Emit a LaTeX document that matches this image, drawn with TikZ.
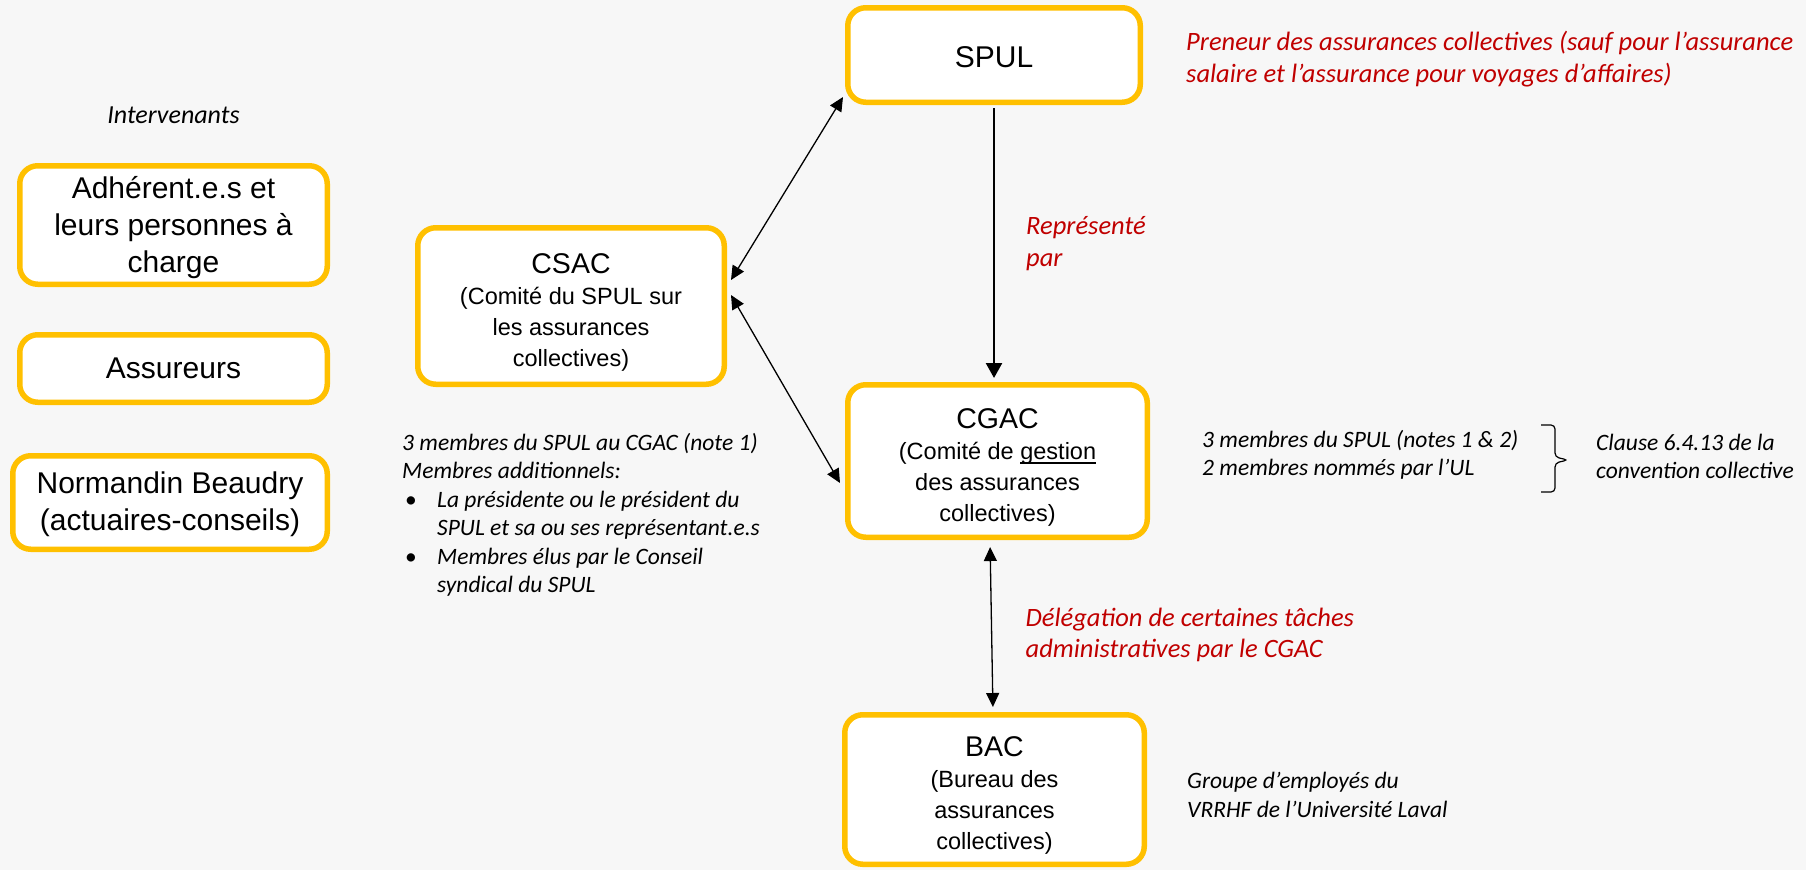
\documentclass[tikz,border=0pt]{standalone}
\usepackage{fontspec}
\setmainfont{Liberation Sans}
\newfontfamily\notefont{Carlito}
\usepackage{tikz}
\usetikzlibrary{positioning,arrows.meta}

\definecolor{boxorange}{HTML}{FFC000}
\definecolor{notered}{HTML}{C00000}
\definecolor{pagegray}{HTML}{F7F7F7}

\newcommand{\titlesize}{\fontsize{28.5}{31}\selectfont\rule{0pt}{32pt}}
\newcommand{\lowline}[1]{\setbox0\hbox{#1}\rlap{\rule[-4.5pt]{\wd0}{1.2pt}}#1}

\begin{document}
\begin{tikzpicture}[%
    x=1pt,
    y=-1pt,
    >={Triangle[length=14pt,width=13pt]},
    actor/.style={%
      rectangle,
      rounded corners=18pt,
      draw=boxorange,
      line width=5.5pt,
      fill=white,
      align=center,
      inner sep=2pt,
      font=\fontsize{30}{37}\selectfont
    },
    committee/.style={%
      actor,
      font=\fontsize{23.5}{31}\selectfont
    },
    note/.style={%
      align=left,
      inner sep=0pt,
      font=\notefont\itshape\fontsize{23.5}{28.5}\selectfont
    },
    rednote/.style={%
      note,
      text=notered,
      font=\notefont\itshape\fontsize{26.5}{31.5}\selectfont
    },
    link/.style={%
      <->,
      line width=1.3pt
    }
  ]
    \fill[pagegray] (0,0) rectangle (1806,870);
    \useasboundingbox (0,0) rectangle (1806,870);

    % centre column
    \node[actor, minimum width=292.5pt, minimum height=94.5pt] (spul) at (994,55) {\rule{0pt}{25pt}SPUL};
    \node[committee, minimum width=299.5pt, minimum height=152.5pt] (cgac) [below=277pt of spul, xshift=3.5pt]
      {{\titlesize CGAC}\\(Comité de \lowline{gestion}\\des assurances\\collectives)};
    \node[committee, minimum width=299.5pt, minimum height=149.5pt] (bac) [below=172pt of cgac, xshift=-3pt]
      {{\titlesize BAC}\\(Bureau des\\assurances\\collectives)};
    \node[committee, minimum width=306.5pt, minimum height=156.5pt] (csac) [below left=120pt and 118pt of spul]
      {{\titlesize CSAC}\\(Comité du SPUL sur\\les assurances\\collectives)};

    % left column
    \node[note, font=\notefont\itshape\fontsize{26}{30}\selectfont] (inter) at (173.5,115) {Intervenants};
    \node[actor, minimum width=307.5pt, minimum height=118.5pt] (adh) at (173.5,225)
      {\rule{0pt}{28pt}Adhérent.e.s et\\leurs personnes à\\charge};
    \node[actor, minimum width=307.5pt, minimum height=67.5pt] (assur) [below=45pt of adh] {Assureurs};
    \node[actor, minimum width=314.5pt, minimum height=93.5pt] (norm) [below=48pt of assur, xshift=-3.5pt]
      {\rule{0pt}{26pt}Normandin Beaudry\\(actuaires-conseils)};

    % notes
    \node[rednote] (preneur) [right=43pt of spul, yshift=-4pt]
      {Preneur des assurances collectives (sauf pour l’assurance\\salaire et l’assurance pour voyages d’affaires)};
    \node[note] (cgacnote) [right=52pt of cgac, yshift=6pt]
      {3 membres du SPUL (notes 1 \& 2)\\2 membres nommés par l’UL};
    \node[note] (groupe) [right=40pt of bac, yshift=-5.5pt]
      {Groupe d’employés du\\VRRHF de l’Université Laval};
    \node[note, anchor=north west] (membres) at (402,430) {%
      \begin{tabular}{@{}p{35pt}@{}l@{}}
        \multicolumn{2}{@{}l@{}}{3 membres du SPUL au CGAC (note 1)}\\
        \multicolumn{2}{@{}l@{}}{Membres additionnels:}\\
        \hspace{3pt}{\upshape\textbullet} & La présidente ou le président du\\
         & SPUL et sa ou ses représentant.e.s\\
        \hspace{3pt}{\upshape\textbullet} & Membres élus par le Conseil\\
         & syndical du SPUL
      \end{tabular}};

    % brace
    \draw[line width=1.2pt, rounded corners=4pt] (1541,425) -- (1555,425) -- (1555,457) -- (1568,460)
      -- (1555,463) -- (1555,492) -- (1541,492);
    \coordinate (tip) at (1568,460);
    \node[note] (clause) [right=28pt of tip, yshift=3.5pt] {Clause 6.4.13 de la\\convention collective};

    % connectors
    \draw[link] ([xshift=4pt,yshift=26pt]csac.east) -- ([xshift=-2pt,yshift=8pt]spul.south west);
    \draw[link] ([xshift=4pt,yshift=11pt]csac.east) -- ([xshift=-5pt,yshift=-22pt]cgac.west);
    \draw[->, line width=2.4pt, >={Triangle[length=15pt,width=16pt]}, shorten <=3pt, shorten >=4pt]
      (spul.south) -- node[rednote, right=31pt] {Représenté\\par} (spul.south |- cgac.north);
    \draw[link, shorten <=7pt, shorten >=5pt]
      ([xshift=-7.5pt]cgac.south) -- node[rednote, right=33.5pt, yshift=-9pt] {Délégation de certaines tâches\\administratives par le CGAC} ([xshift=-1.5pt]bac.north);
\end{tikzpicture}
\end{document}
